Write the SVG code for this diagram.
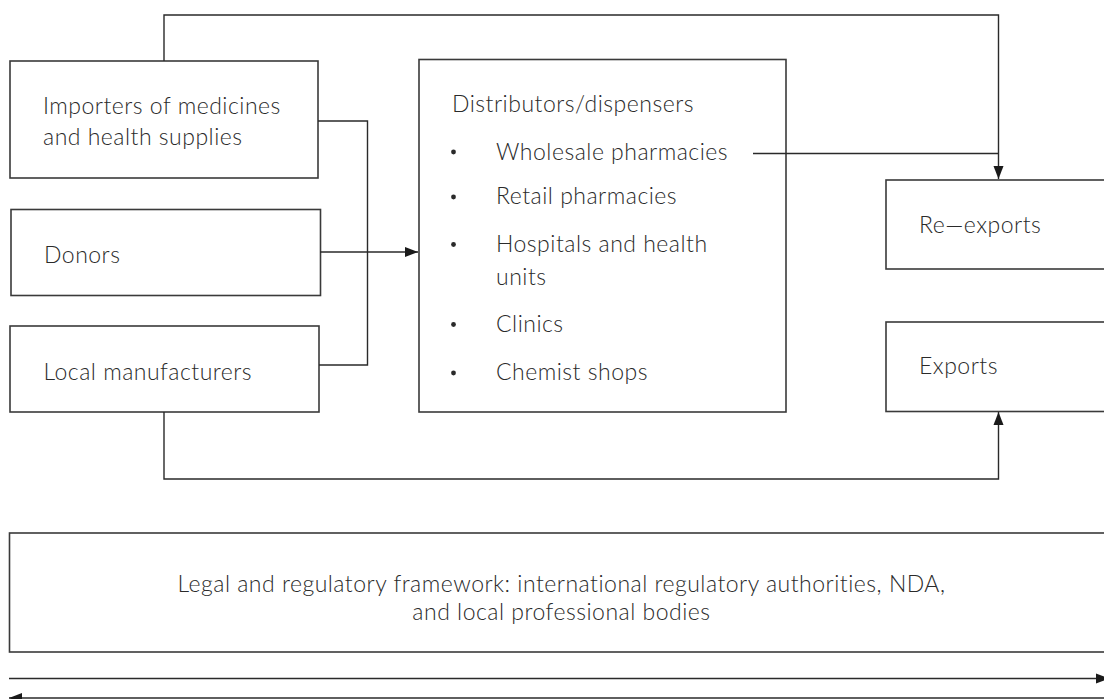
<svg xmlns="http://www.w3.org/2000/svg" width="1104" height="699" viewBox="0 0 1104 699">
<style>
  .box{fill:#fff;stroke:#3a3a3a;stroke-width:1.6}
  .t{font-family:"Lato","Open Sans","Liberation Sans",sans-serif;font-weight:300;font-size:23px;letter-spacing:0.5px;fill:#2a2a2a}
  .c{fill:none;stroke:#2a2a2a;stroke-width:1.4}
  .b{fill:#2a2a2a}
</style>
<defs>
  <marker id="ah" markerUnits="userSpaceOnUse" markerWidth="14" markerHeight="12" refX="13" refY="6" orient="auto" viewBox="0 0 14 12">
    <path d="M0,1 L13,6 L0,11 z" fill="#1a1a1a"/>
  </marker>
</defs>
<rect width="1104" height="699" fill="#fff"/>

<g id="importers">
  <rect class="box" x="10" y="61" width="308" height="117"/>
  <text class="t" x="43" y="114">Importers of medicines</text>
  <text class="t" x="43" y="145">and health supplies</text>
</g>

<g id="donors">
  <rect class="box" x="11" y="209.5" width="309.5" height="86"/>
  <text class="t" x="44" y="263">Donors</text>
</g>

<g id="local-manufacturers">
  <rect class="box" x="10" y="326" width="309" height="86"/>
  <text class="t" x="43.5" y="380">Local manufacturers</text>
</g>

<g id="distributors">
  <rect class="box" x="419" y="59.5" width="367" height="352.5"/>
  <text class="t" x="452" y="112">Distributors/dispensers</text>
  <circle class="b" cx="453.5" cy="152" r="2.4"/>
  <text class="t" x="496" y="159.5">Wholesale pharmacies</text>
  <circle class="b" cx="453.5" cy="197" r="2.4"/>
  <text class="t" x="496" y="204">Retail pharmacies</text>
  <circle class="b" cx="453.5" cy="244.5" r="2.4"/>
  <text class="t" x="496" y="251.5">Hospitals and health</text>
  <text class="t" x="496" y="285">units</text>
  <circle class="b" cx="453.5" cy="324.5" r="2.4"/>
  <text class="t" x="496" y="331.5">Clinics</text>
  <circle class="b" cx="453.5" cy="373" r="2.4"/>
  <text class="t" x="496" y="380">Chemist shops</text>
</g>

<g id="re-exports">
  <rect class="box" x="886" y="180" width="222" height="89"/>
  <text class="t" x="919" y="232.5">Re—exports</text>
</g>

<g id="exports">
  <rect class="box" x="886" y="322" width="222" height="89.5"/>
  <text class="t" x="919" y="374">Exports</text>
</g>

<g id="framework">
  <rect class="box" x="9.5" y="533" width="1100" height="119"/>
  <text class="t" x="561.5" y="592" text-anchor="middle">Legal and regulatory framework: international regulatory authorities, NDA,</text>
  <text class="t" x="561.5" y="620" text-anchor="middle">and local professional bodies</text>
</g>

<g id="connectors">
  <path class="c" d="M164,61 V15 H998.5 V179" marker-end="url(#ah)"/>
  <path class="c" d="M753,153.5 H998.5"/>
  <path class="c" d="M318,121 H367.5 V365 H319"/>
  <path class="c" d="M320,252 H418" marker-end="url(#ah)"/>
  <path class="c" d="M164,412 V479 H998.5 V412" marker-end="url(#ah)"/>
  <path class="c" d="M9,678.5 H1109" marker-end="url(#ah)"/>
  <path class="c" d="M1104,698 H9" marker-end="url(#ah)"/>
</g>
</svg>
